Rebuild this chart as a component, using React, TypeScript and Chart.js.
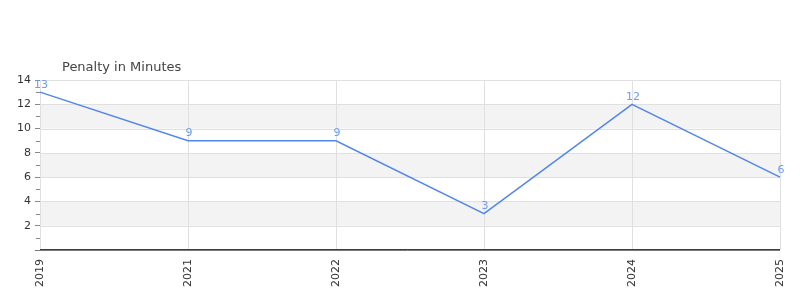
import React, { useEffect, useRef } from "react";
import { Chart, registerables } from "chart.js";

Chart.register(...registerables);

const years = ["2019", "2021", "2022", "2023", "2024", "2025"];
const penaltyMinutes = [13, 9, 9, 3, 12, 6];
const yMax = 14;
const yStep = 2;
const chartTitle = "Penalty in Minutes";

const FONT = "'DejaVu Sans', sans-serif";

// Alternating shaded bands, minor ticks, zero line, value labels and title
const decorations = {
  id: "decorations",
  beforeDatasetsDraw(chart: any) {
    const { ctx, chartArea, scales } = chart;
    const y = scales.y;
    ctx.save();
    // shaded bands between every other pair of grid lines
    ctx.fillStyle = "#f3f3f3";
    for (let v = 2; v < yMax; v += 2 * yStep) {
      const top = y.getPixelForValue(v + yStep);
      const bottom = y.getPixelForValue(v);
      ctx.fillRect(chartArea.left, top, chartArea.right - chartArea.left, bottom - top);
    }
    // grid lines over the bands
    ctx.strokeStyle = "#e0e0e0";
    ctx.lineWidth = 1;
    for (let v = yStep; v <= yMax; v += yStep) {
      const py = Math.round(y.getPixelForValue(v)) + 0.5;
      ctx.beginPath();
      ctx.moveTo(chartArea.left, py);
      ctx.lineTo(chartArea.right, py);
      ctx.stroke();
    }
    const x = scales.x;
    years.forEach((_, i) => {
      const px = Math.round(x.getPixelForValue(i)) + 0.5;
      ctx.beginPath();
      ctx.moveTo(px, chartArea.top);
      ctx.lineTo(px, chartArea.bottom);
      ctx.stroke();
    });
    ctx.restore();
  },
  afterDatasetsDraw(chart: any) {
    const { ctx, chartArea, scales } = chart;
    const y = scales.y;
    ctx.save();
    // minor ticks at odd values
    ctx.strokeStyle = "#888";
    ctx.lineWidth = 1;
    for (let v = 1; v < yMax; v += yStep) {
      const py = Math.round(y.getPixelForValue(v)) + 0.5;
      ctx.beginPath();
      ctx.moveTo(chartArea.left - 4, py);
      ctx.lineTo(chartArea.left, py);
      ctx.stroke();
    }
    // zero line and base axis
    const zy = Math.round(y.getPixelForValue(0));
    ctx.strokeStyle = "#d00000";
    ctx.beginPath();
    ctx.moveTo(chartArea.left, zy - 0.5);
    ctx.lineTo(chartArea.right, zy - 0.5);
    ctx.stroke();
    ctx.strokeStyle = "#777";
    ctx.beginPath();
    ctx.moveTo(chartArea.left - 5, zy + 0.5);
    ctx.lineTo(chartArea.right, zy + 0.5);
    ctx.stroke();
    // value labels
    ctx.fillStyle = "#6d9eeb";
    ctx.font = `11px ${FONT}`;
    ctx.textAlign = "center";
    ctx.textBaseline = "bottom";
    const meta = chart.getDatasetMeta(0);
    meta.data.forEach((pt: any, i: number) => {
      ctx.fillText(String(penaltyMinutes[i]), pt.x + 1, pt.y - 2);
    });
    // title
    ctx.fillStyle = "#444";
    ctx.font = `13px ${FONT}`;
    ctx.textAlign = "left";
    ctx.textBaseline = "middle";
    ctx.fillText(chartTitle, chartArea.left + 22, chartArea.top - 12);
    ctx.restore();
  },
};

export default function App() {
  const ref = useRef<HTMLCanvasElement>(null);

  useEffect(() => {
    document.body.style.margin = "0";
    const chart = new Chart(ref.current!, {
      type: "line",
      data: {
        labels: years,
        datasets: [
          {
            data: penaltyMinutes,
            borderColor: "#4f87ea",
            borderWidth: 1.5,
            pointRadius: 0,
            tension: 0,
            fill: false,
          },
        ],
      },
      options: {
        responsive: false,
        animation: false,
        layout: { padding: { top: 80, right: 20, left: 0, bottom: 0 } },
        plugins: {
          legend: { display: false },
          tooltip: { enabled: false },
        },
        scales: {
          x: {
            offset: false,
            grid: { display: false, drawTicks: false },
            border: { display: false },
            ticks: {
              color: "#333",
              font: { family: FONT, size: 11 },
              maxRotation: 90,
              minRotation: 90,
              padding: 9,
            },
            afterFit(scale: any) {
              scale.height = 50;
              scale.paddingLeft = 0;
              scale.paddingRight = 0;
            },
          },
          y: {
            min: 0,
            max: yMax,
            grid: {
              drawOnChartArea: false,
              drawTicks: true,
              tickLength: 5,
              color: "#888",
            },
            border: { display: true, color: "#777" },
            ticks: {
              stepSize: yStep,
              color: "#333",
              font: { family: FONT, size: 11 },
              padding: 4,
              callback: (v: any) => (v === 0 ? "" : String(v)),
            },
            afterFit(scale: any) {
              scale.width = 40;
              scale.paddingTop = 0;
              scale.paddingBottom = 0;
            },
          },
        },
      },
      plugins: [decorations],
    });
    return () => chart.destroy();
  }, []);

  return (
    <div style={{ width: 800, height: 300 }}>
      <canvas ref={ref} width={800} height={300} />
    </div>
  );
}
